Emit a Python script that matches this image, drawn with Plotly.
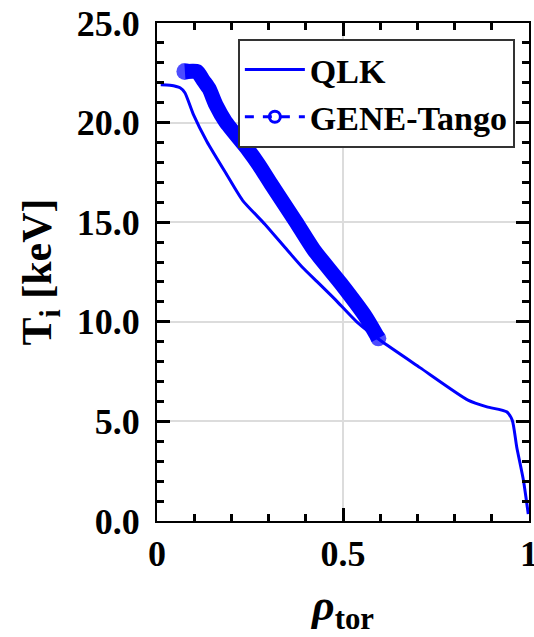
import plotly.graph_objects as go

# QLK profile
qlk_rho = [0.01, 0.035, 0.062, 0.075, 0.098, 0.134, 0.188, 0.23, 0.29, 0.35, 0.39, 0.435,
           0.48, 0.537, 0.60, 0.707, 0.836, 0.887, 0.94, 0.955, 0.967, 0.985, 0.998]
qlk_ti = [21.9, 21.88, 21.75, 21.5, 20.4, 19.05, 17.37, 16.1, 14.9, 13.6, 12.75, 11.93,
          11.1, 10.0, 9.07, 7.7, 6.07, 5.73, 5.48, 5.06, 3.72, 2.05, 0.35]

# GENE-Tango profile
gene_rho = [0.075, 0.095, 0.108, 0.125, 0.14, 0.158, 0.184, 0.245, 0.274, 0.305, 0.373,
            0.422, 0.494, 0.561, 0.595]
gene_ti = [22.56, 22.58, 22.56, 22.1, 21.7, 20.9, 20.05, 18.63, 17.87, 16.96, 15.03,
           13.6, 11.93, 10.25, 9.17]

# tick spacing (labels: 0, 0.5, 1  and  0.0 ... 25.0)
x_major, x_minor = 0.5, 0.1
y_major, y_minor = 5, 1

BLUE = "#0000ff"
FONT = "Liberation Serif, Times New Roman, serif"

# round end caps on the thick GENE-Tango band
gene_sizes = [17] + [0] * (len(gene_rho) - 2) + [16]

fig = go.Figure()
fig.add_trace(go.Scatter(x=qlk_rho, y=qlk_ti, mode="lines", name="QLK",
                         line=dict(color=BLUE, width=3, shape="spline", smoothing=0.6)))
fig.add_trace(go.Scatter(x=gene_rho, y=gene_ti, mode="lines+markers", showlegend=False,
                         line=dict(color=BLUE, width=15, shape="spline", smoothing=0.6),
                         marker=dict(color=BLUE, size=gene_sizes, symbol="circle",
                                     line=dict(width=0))))
fig.add_trace(go.Scatter(x=[None], y=[None], mode="lines+markers", name="GENE-Tango",
                         line=dict(color=BLUE, width=3, dash="dash"),
                         marker=dict(color=BLUE, size=11, symbol="circle-open",
                                     line=dict(width=3, color=BLUE))))

axis_common = dict(
    showline=True, linecolor="black", linewidth=2, mirror="allticks",
    ticks="inside", ticklen=13, tickwidth=2.5, tickcolor="#000000",
    showgrid=True, gridcolor="#dcdcdc", gridwidth=1.5,
    zeroline=False, automargin=False, tickmode="linear", tick0=0,
    layer="above traces",
    tickfont=dict(family=FONT, size=36, color="black", weight="bold"),
)
minor_common = dict(ticks="inside", ticklen=7, tickwidth=2.5, tickcolor="#000000",
                    tick0=0, showgrid=False)

fig.update_xaxes(**axis_common, range=[0, 1], dtick=x_major, tickformat="~g",
                 minor=dict(**minor_common, dtick=x_minor),
                 ticklabelstandoff=0, ticklabeloverflow="allow",
                 title=dict(text="<i>ρ</i><sub>tor</sub>", standoff=16,
                            font=dict(family=FONT, size=44, color="black", weight="bold")))
fig.update_yaxes(**axis_common, range=[0, 25], dtick=y_major, tickformat=".1f",
                 minor=dict(**minor_common, dtick=y_minor),
                 ticklabelstandoff=8,
                 title=dict(text="T<sub>i</sub> [keV]", standoff=12,
                            font=dict(family=FONT, size=42, color="black", weight="bold")))

fig.update_layout(
    width=534, height=637, autosize=False,
    margin=dict(l=157, r=5, t=23, b=116),
    plot_bgcolor="white", paper_bgcolor="white",
    font=dict(family=FONT, color="black"),
    legend=dict(x=0.962, y=0.968, xanchor="right", yanchor="top",
                bgcolor="white", bordercolor="#333333", borderwidth=2,
                font=dict(family=FONT, size=34, color="black", weight="bold"),
                tracegroupgap=0, itemwidth=60),
)

fig.write_html("out.html")
